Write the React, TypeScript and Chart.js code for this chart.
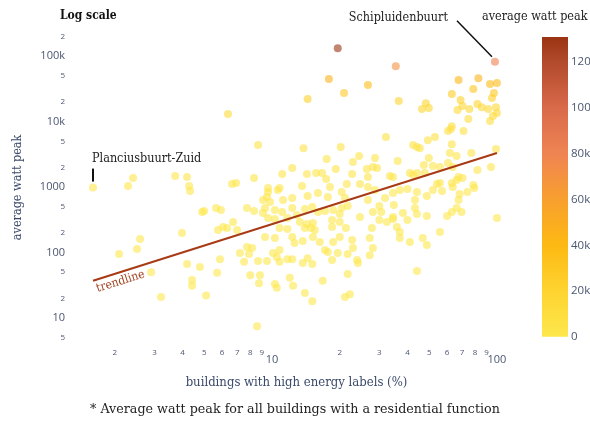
import React, { useEffect, useRef } from 'react';
import { Chart, registerables } from 'chart.js';

Chart.register(...registerables);

// share of buildings with high energy labels (%)
const pctHighLabels = [
  1.6, 2.29, 2.41, 3.71, 4.19, 4.28, 4.32, 4.99, 4.89, 5.64, 5.93, 6.06, 5.75, 3.98, 2.59, 2.51, 2.09, 2.9, 4.19, 4.78,
  5.87, 5.7, 4.41, 4.41, 3.21, 5.09, 19.6, 17.9, 20.9, 14.4, 6.37, 8.67, 13.8, 20.2, 17.5, 24.4, 22.9, 12.3, 19.2, 8.32,
  11.1, 14.3, 15.7, 16.7, 17.4, 22.7, 6.64, 6.92, 13.6, 10.8, 18.1, 21.5, 24.6, 9.6, 98, 35.5, 26.7, 36.6, 67.5, 82.7,
  78.5, 93.2, 100, 63.0, 97, 95.1, 68.9, 48.3, 46.4, 49.8, 66.8, 70.3, 75.4, 81.9, 85.6, 91.4, 99, 100, 96, 93.2,
  74.6, 63.0, 62.4, 60.6, 71.0, 32.1, 49.3, 53.0, 63.0, 42.4, 44.1, 45.4, 99, 61.8, 66.2, 76.9, 28.7, 49.8, 36.2, 28.1,
  29.3, 26.4, 47.3, 51.9, 55.8, 60.6, 63.6, 81.9, 94.1, 41.0, 44.1, 34.5, 33.4, 26.7, 67.5, 66.2, 70.3, 55.8, 63.0, 78.5,
  54.1, 42.4, 47.8, 9.6, 9.5, 10.6, 11.2, 12.3, 14.4, 16.0, 17.7, 20.4, 21.1, 9.12, 9.8, 7.74, 8.32, 9.31, 9.12, 10.3,
  11.1, 12.3, 12.9, 14.0, 15.1, 16.0, 17.2, 18.7, 20.0, 20.4, 21.7, 24.6, 9.6, 10.3, 11.7, 13.3, 14.3, 15.2, 14.0, 14.9,
  15.5, 18.5, 20.0, 18.5, 21.3, 6.31, 6.71, 6.99, 10.8, 11.7, 9.31, 10.3, 12.3, 13.7, 15.2, 12.6, 16.3, 18.7, 20.0, 22.7,
  7.74, 8.15, 10.8, 10.1, 17.2, 17.7, 19.6, 22.9, 7.2, 7.9, 8.67, 9.5, 10.5, 11.7, 12.3, 13.7, 15.1, 14.4, 7.51, 10.8,
  18.5, 21.7, 23.9, 24.1, 8.0, 8.84, 8.75, 10.3, 10.5, 12.0, 12.4, 16.8, 21.7, 14.0, 15.1, 21.1, 22.2, 8.58, 26.7, 28.7,
  31.8, 34.5, 37.0, 40.0, 44.1, 48.8, 51.9, 57.0, 63.6, 68.2, 73.9, 79.3, 67.5, 26.7, 30.0, 34.8, 43.2, 43.2, 28.1, 30.6,
  34.5, 38.2, 40.0, 44.1, 48.8, 60.0, 63.0, 66.2, 69.6, 30.0, 32.4, 34.5, 35.9, 27.8, 37.0, 37.0, 55.8, 46.8, 48.8, 41.0,
  27.2, 28.1, 27.2, 44.1, 100,
];

// average watt peak
const avgWattPeak = [
  980, 1040, 1370, 1470, 1420, 1040, 869, 430, 415, 478, 445, 245, 221, 199, 161, 113, 95, 50, 67, 60,
  79, 49, 38, 31, 21, 22, 132000, 44500, 27200, 22000, 13000, 4400, 3900, 4100, 2670, 2970, 2410, 1950, 1880, 1370,
  1580, 1580, 1640, 1640, 1320, 1580, 1110, 1150, 1040, 966, 1000, 1110, 1110, 966, 82000, 70000, 36000, 20600, 43000, 46000,
  31300, 37400, 38700, 26300, 27200, 22800, 21300, 19100, 15500, 16100, 15000, 17200, 15500, 18500, 16600, 15500, 16600, 13500, 12100, 10200,
  10900, 8500, 7700, 7200, 7200, 5800, 5200, 5800, 4500, 4400, 4100, 3900, 3800, 3300, 2970, 3300, 2770, 2770, 2490, 2020,
  1950, 1880, 2170, 2090, 2020, 2320, 2020, 1820, 2020, 1640, 1640, 1420, 1470, 1420, 1420, 1280, 1370, 1150, 1150, 1070,
  1110, 1520, 1640, 839, 704, 900, 633, 679, 729, 810, 704, 839, 679, 633, 590, 478, 430, 478, 401, 445,
  415, 478, 374, 462, 495, 415, 430, 445, 387, 478, 513, 348, 336, 325, 336, 292, 272, 282, 237, 237,
  221, 313, 292, 245, 237, 237, 292, 221, 237, 229, 173, 167, 173, 150, 173, 140, 145, 145, 173, 155,
  121, 117, 109, 98, 109, 102, 98, 117, 98, 95, 74, 74, 85, 79, 79, 69, 67, 82, 72, 72,
  77, 95, 77, 69, 45, 45, 34, 33, 29, 41, 31, 37, 47, 24, 18, 21, 23, 7.5, 1000, 900,
  679, 810, 900, 932, 839, 729, 900, 869, 1000, 782, 839, 966, 633, 633, 513, 531, 633, 478, 415, 415,
  348, 401, 313, 387, 361, 361, 415, 478, 415, 313, 292, 325, 245, 237, 206, 167, 206, 167, 130, 145,
  167, 117, 91, 52, 336,
];

// trendline end points
const trendX = [1.6, 100];
const trendY = [37, 3300];

// labelled neighbourhoods
const labelNames = ['Planciusbuurt-Zuid', 'Schipluidenbuurt'];
const labelX = [1.6, 98];
const labelY = [980, 82000];

// tick labels
const xTickValues = [2, 3, 4, 5, 6, 7, 8, 9, 10, 20, 30, 40, 50, 60, 70, 80, 90, 100];
const xTickLabels = ['2', '3', '4', '5', '6', '7', '8', '9', '10', '2', '3', '4', '5', '6', '7', '8', '9', '100'];
const yTickValues = [5, 10, 20, 50, 100, 200, 500, 1000, 2000, 5000, 10000, 20000, 50000, 100000, 200000];
const yTickLabels = ['5', '10', '2', '5', '100', '2', '5', '1000', '2', '5', '10k', '2', '5', '100k', '2'];
const majorValues = [10, 100, 1000, 10000, 100000];

// colour scale
const colorStops = [0, 20000, 40000, 60000, 80000, 100000, 120000, 131000];
const colorHex = ['#fde74c', '#fed430', '#fdb913', '#f8a02e', '#ef8453', '#d96a4a', '#b24a2c', '#9a3412'];
const colorbarTicks = [0, 20000, 40000, 60000, 80000, 100000, 120000];
const colorbarLabels = ['0', '20k', '40k', '60k', '80k', '100k', '120k'];

const SERIF = "'DejaVu Serif Condensed', 'DejaVu Serif', serif";
const SANS = "'Open Sans', sans-serif";

function hexRgb(h: string) {
  return [parseInt(h.slice(1, 3), 16), parseInt(h.slice(3, 5), 16), parseInt(h.slice(5, 7), 16)];
}

function colorFor(v: number, alpha: number) {
  let i = 0;
  while (i < colorStops.length - 2 && v > colorStops[i + 1]) i++;
  const t = Math.max(0, Math.min(1, (v - colorStops[i]) / (colorStops[i + 1] - colorStops[i])));
  const a = hexRgb(colorHex[i]);
  const b = hexRgb(colorHex[i + 1]);
  const c = a.map((av, k) => Math.round(av + (b[k] - av) * t));
  return `rgba(${c[0]},${c[1]},${c[2]},${alpha})`;
}

const isMajor = (v: number) => majorValues.some((m) => Math.abs(v - m) / m < 1e-6);

const overlay = {
  id: 'overlay',
  afterDraw(chart: any) {
    const { ctx } = chart;
    const { x, y, c } = chart.scales;
    ctx.save();

    // colour bar
    const top = c.getPixelForValue(colorStops[colorStops.length - 1]);
    const bottom = c.getPixelForValue(0);
    const g = ctx.createLinearGradient(0, bottom, 0, top);
    colorStops.forEach((s, i) => g.addColorStop(s / colorStops[colorStops.length - 1], colorHex[i]));
    ctx.fillStyle = g;
    ctx.fillRect(c.left + 37, top, 26, bottom - top);

    // titles
    ctx.fillStyle = '#111';
    ctx.textBaseline = 'middle';
    ctx.textAlign = 'left';
    ctx.font = `bold 12px ${SERIF}`;
    ctx.fillText('Log scale', 60, 16);
    ctx.font = `12.5px ${SERIF}`;
    ctx.fillStyle = '#222';
    ctx.fillText('average watt peak', 482, 17);

    // Planciusbuurt-Zuid
    const px = x.getPixelForValue(labelX[0]);
    const py = y.getPixelForValue(labelY[0]);
    ctx.fillText(labelNames[0], px - 1, py - 29);
    ctx.strokeStyle = '#111';
    ctx.lineWidth = 2;
    ctx.beginPath();
    ctx.moveTo(px, py - 19);
    ctx.lineTo(px, py - 6);
    ctx.stroke();

    // Schipluidenbuurt
    const sx = x.getPixelForValue(labelX[1]);
    const sy = y.getPixelForValue(labelY[1]);
    ctx.textAlign = 'right';
    ctx.fillText(labelNames[1], sx - 47, sy - 44);
    ctx.lineWidth = 1.5;
    ctx.beginPath();
    ctx.moveTo(sx - 38, sy - 41);
    ctx.lineTo(sx - 3, sy - 5);
    ctx.stroke();

    // trendline label
    const x0 = x.getPixelForValue(trendX[0]);
    const y0 = y.getPixelForValue(trendY[0]);
    const x1 = x.getPixelForValue(trendX[1]);
    const y1 = y.getPixelForValue(trendY[1]);
    const ang = Math.atan2(y1 - y0, x1 - x0);
    ctx.translate(x0, y0);
    ctx.rotate(ang);
    ctx.textAlign = 'left';
    ctx.textBaseline = 'top';
    ctx.fillStyle = '#a0401f';
    ctx.font = `12px ${SERIF}`;
    ctx.fillText('trendline', 1, 3);
    ctx.restore();
  },
};

export default function App() {
  const ref = useRef<HTMLCanvasElement>(null);

  useEffect(() => {
    if (!ref.current) return;
    const points = pctHighLabels.map((v, i) => ({ x: v, y: avgWattPeak[i] }));
    const chart = new Chart(ref.current, {
      type: 'scatter',
      data: {
        datasets: [
          {
            type: 'line',
            data: trendX.map((v, i) => ({ x: v, y: trendY[i] })),
            borderColor: '#a83a16',
            borderWidth: 2,
            pointRadius: 0,
            fill: false,
          } as any,
          {
            data: points,
            backgroundColor: avgWattPeak.map((v) => colorFor(v, 0.6)),
            borderWidth: 0,
            pointRadius: 4,
            pointHoverRadius: 4,
          },
        ],
      },
      options: {
        responsive: false,
        animation: false,
        layout: { padding: { top: 30, left: 0, right: 0, bottom: 0 } },
        plugins: {
          legend: { display: false },
          tooltip: { enabled: false },
          subtitle: {
            display: true,
            position: 'bottom',
            text: '* Average watt peak for all buildings with a residential function',
            color: '#222',
            font: { family: "'DejaVu Serif', serif", size: 12.7, weight: 'normal' },
            padding: { top: 9, bottom: 6 },
          },
        },
        scales: {
          x: {
            type: 'logarithmic',
            position: 'bottom',
            min: 1.52,
            max: 108.6,
            afterBuildTicks: (s: any) => {
              s.ticks = xTickValues.map((v) => ({ value: v, major: false }));
            },
            afterFit: (s: any) => {
              s.height = 48;
              s.paddingLeft = 0;
              s.paddingRight = 0;
            },
            grid: { display: false, drawTicks: false },
            border: { display: false },
            ticks: {
              autoSkip: false,
              maxRotation: 0,
              minRotation: 0,
              padding: 3,
              color: '#4b5670',
              font: (ctx: any) =>
                ctx.tick && isMajor(ctx.tick.value)
                  ? { family: SANS, size: 11, lineHeight: 2.15 }
                  : { family: SANS, size: 8 },
              callback: (v: any, i: number) => xTickLabels[i],
            },
            title: {
              display: true,
              text: 'buildings with high energy labels (%)',
              color: '#3b4a6b',
              font: { family: SERIF, size: 13 },
              padding: { top: 0, bottom: 2 },
            },
          },
          y: {
            type: 'logarithmic',
            position: 'left',
            min: 3.9,
            max: 250000,
            afterBuildTicks: (s: any) => {
              s.ticks = yTickValues.map((v) => ({ value: v, major: false }));
            },
            afterFit: (s: any) => {
              s.width = 88;
              s.paddingTop = 0;
              s.paddingBottom = 0;
            },
            grid: { display: false, drawTicks: false },
            border: { display: false },
            ticks: {
              autoSkip: false,
              padding: 23,
              color: '#4b5670',
              font: (ctx: any) =>
                ctx.tick && isMajor(ctx.tick.value) ? { family: SANS, size: 11 } : { family: SANS, size: 8 },
              callback: (v: any, i: number) => yTickLabels[i],
            },
            title: {
              display: true,
              text: 'average watt peak',
              color: '#3b4a6b',
              font: { family: SERIF, size: 12.5 },
              padding: { top: 10, bottom: 0 },
            },
          },
          c: {
            type: 'linear',
            position: 'right',
            display: true,
            min: -3493,
            max: 134061,
            afterBuildTicks: (s: any) => {
              s.ticks = colorbarTicks.map((v) => ({ value: v }));
            },
            afterFit: (s: any) => {
              s.width = 85;
              s.paddingTop = 0;
              s.paddingBottom = 0;
            },
            grid: { display: false, drawTicks: false },
            border: { display: false },
            ticks: {
              autoSkip: false,
              padding: 66,
              color: '#4b5670',
              font: { family: SANS, size: 11.5 },
              callback: (v: any, i: number) => colorbarLabels[i],
            },
          },
        },
      },
      plugins: [overlay],
    });
    return () => chart.destroy();
  }, []);

  return (
    <canvas
      ref={ref}
      width={590}
      height={423}
      style={{ display: 'block', position: 'absolute', left: 0, top: 0 }}
    />
  );
}
